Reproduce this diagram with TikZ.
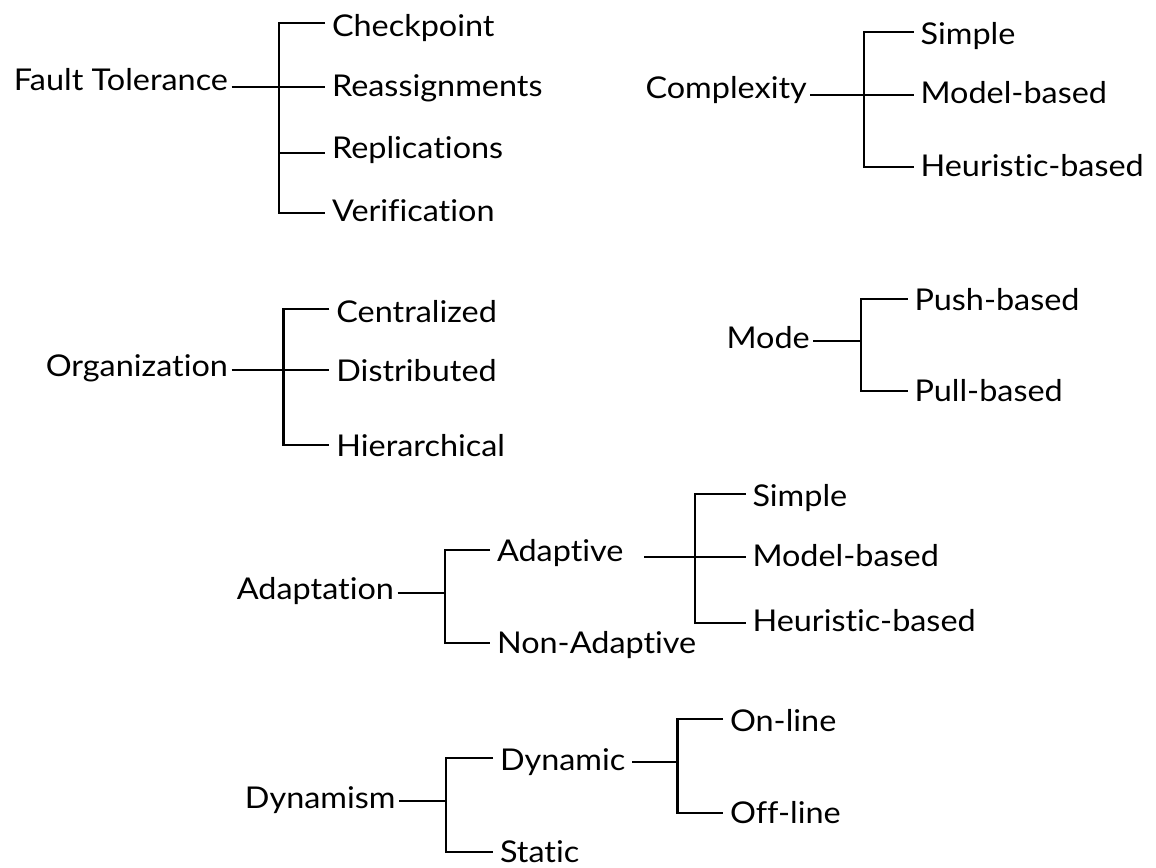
\documentclass[tikz,border=0pt]{standalone}
\usepackage{fontspec}
\setmainfont[Ligatures=NoCommon,FakeStretch=1.08]{Lato}
\begin{document}
\begin{tikzpicture}[x=1pt,y=-1pt,line width=2.3pt,line join=miter,
  lbl/.style={inner sep=0pt,font=\fontsize{30}{36}\selectfont},
  root/.style={lbl,anchor=base east,outer xsep=3.5pt,outer ysep=0pt},
  leaf/.style={lbl,anchor=base west,outer xsep=7pt,outer ysep=0pt}]
\useasboundingbox (0,0) rectangle (1156,867);

% ---------------- Fault Tolerance ----------------
\coordinate (ftj) at (279.3,87.3);
\coordinate (fta) at (279.3,23.3);
\coordinate (ftc) at (279.3,153.3);
\coordinate (ftd) at (279.3,213.3);
\node[root] (ft) at (231.5,90.7) {Fault Tolerance};
\node[leaf] (ck) at (325,36.7) {Checkpoint};
\node[leaf] (ra) at (325,96.7) {Reassignments};
\node[leaf] (rp) at (325,158.3) {Replications};
\node[leaf] (vf) at (325,221.7) {Verification};
\draw (ft.east |- ftj) -- (ftj);
\draw (ck.west |- fta) -- (fta) -- (ftd) -- (vf.west |- ftd);
\draw (ftj) -- (ra.west |- ftj);
\draw (ftc) -- (rp.west |- ftc);

% ---------------- Complexity ----------------
\coordinate (cxj) at (863.7,95);
\coordinate (cxa) at (863.7,31.7);
\coordinate (cxc) at (863.7,166.7);
\node[root] (cx) at (810.3,98.3) {Complexity};
\node[leaf] (cs) at (913.6,45) {Simple};
\node[leaf] (cm) at (913.6,103.3) {Model-based};
\node[leaf] (ch) at (913.6,176.7) {Heuristic-based};
\draw (cx.east |- cxj) -- (cxj);
\draw (cs.west |- cxa) -- (cxa) -- (cxc) -- (ch.west |- cxc);
\draw (cxj) -- (cm.west |- cxj);

% ---------------- Organization ----------------
\coordinate (orj) at (283.6,370);
\coordinate (ora) at (283.6,309.3);
\coordinate (orc) at (283.6,445);
\node[root] (or) at (231.5,376.7) {Organization};
\node[leaf] (oc) at (329.4,322.7) {Centralized};
\node[leaf] (od) at (329.4,381.7) {Distributed};
\node[leaf] (oh) at (329.4,456) {Hierarchical};
\draw (or.east |- orj) -- (orj);
\draw (oc.west |- ora) -- (ora) -- (orc) -- (oh.west |- orc);
\draw (orj) -- (od.west |- orj);

% ---------------- Mode ----------------
\coordinate (mdj) at (861,340.7);
\coordinate (mda) at (861,299);
\coordinate (mdb) at (861,390.7);
\node[root] (md) at (813.3,348.3) {Mode};
\node[leaf] (mp) at (907.5,310.7) {Push-based};
\node[leaf] (ml) at (907.5,401.7) {Pull-based};
\draw (md.east |- mdj) -- (mdj);
\draw (mp.west |- mda) -- (mda) -- (mdb) -- (ml.west |- mdb);

% ---------------- Adaptation ----------------
\coordinate (apj) at (445,592.7);
\coordinate (apa) at (445,550);
\coordinate (apb) at (445,642.7);
\node[root] (ap) at (397.5,599.3) {Adaptation};
\node[leaf] (ad) at (490,561.7) {Adaptive};
\node[leaf] (na) at (490,653.3) {Non-Adaptive};
\draw (ap.east |- apj) -- (apj);
\draw (ad.west |- apa) -- (apa) -- (apb) -- (na.west |- apb);

\coordinate (adj) at (695,557.3);
\coordinate (ada) at (695,494);
\coordinate (adc) at (695,622.7);
\coordinate (ads) at (644,557.3);
\node[leaf] (as) at (745.5,506.7) {Simple};
\node[leaf] (am) at (745.5,566.7) {Model-based};
\node[leaf] (ah) at (745.5,631.7) {Heuristic-based};
\draw (ads) -- (adj);
\draw (as.west |- ada) -- (ada) -- (adc) -- (ah.west |- adc);
\draw (adj) -- (am.west |- adj);

% ---------------- Dynamism ----------------
\coordinate (dyj) at (446,801);
\coordinate (dya) at (446,758.3);
\coordinate (dyb) at (446,851.7);
\node[root] (dy) at (399,808.3) {Dynamism};
\node[leaf] (dn) at (493,770.7) {Dynamic};
\node[leaf] (st) at (493,862.7) {Static};
\draw (dy.east |- dyj) -- (dyj);
\draw (dn.west |- dya) -- (dya) -- (dyb) -- (st.west |- dyb);

\coordinate (dnj) at (677.5,761.7);
\coordinate (dna) at (677.5,719.3);
\coordinate (dnb) at (677.5,813.3);
\node[leaf] (on) at (723,731.7) {On-line};
\node[leaf] (of) at (723,823.3) {Off-line};
\draw (dn.east |- dnj) -- (dnj);
\draw (on.west |- dna) -- (dna) -- (dnb) -- (of.west |- dnb);
\end{tikzpicture}
\end{document}
